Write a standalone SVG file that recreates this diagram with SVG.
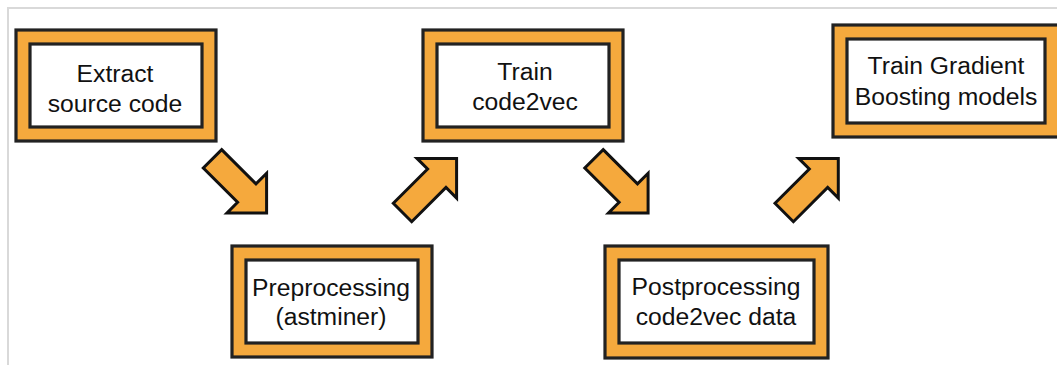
<svg xmlns="http://www.w3.org/2000/svg" width="1057" height="365" viewBox="0 0 1057 365">
  <style>
    .frame { fill: #f5a93d; stroke: #222; stroke-width: 3.2; }
    .panel { fill: #fff; stroke: #222; stroke-width: 3.2; }
    .label { font-family: "Liberation Sans", Arial, sans-serif; font-size: 24.7px; fill: #111; text-anchor: middle; }
    .arrow { fill: #f5a93d; stroke: #111; stroke-width: 3; stroke-linejoin: miter; }
    .edge { stroke: #d9d9d9; stroke-width: 2; fill: none; }
  </style>
  <defs>
    <!-- block arrow pointing along +x, tail centred on the origin -->
    <polygon id="blockArrow" points="0,-13 48.5,-13 48.5,-28 76.5,0 48.5,28 48.5,13 0,13"/>
  </defs>

  <rect width="1057" height="365" fill="#fff"/>
  <path class="edge" d="M8,365 V8 H1057"/>

  <g id="extract">
    <rect class="frame" x="16" y="30" width="200" height="111"/>
    <rect class="panel" x="30" y="44" width="172" height="83"/>
    <text class="label" x="115" y="82">Extract</text>
    <text class="label" x="115" y="112">source code</text>
  </g>

  <g id="preprocessing">
    <rect class="frame" x="232" y="246" width="200" height="111"/>
    <rect class="panel" x="246" y="260" width="172" height="83"/>
    <text class="label" x="331" y="296">Preprocessing</text>
    <text class="label" x="331" y="325">(astminer)</text>
  </g>

  <g id="train-code2vec">
    <rect class="frame" x="423" y="30" width="200" height="111"/>
    <rect class="panel" x="437" y="44" width="172" height="83"/>
    <text class="label" x="525" y="80">Train</text>
    <text class="label" x="525" y="110">code2vec</text>
  </g>

  <g id="postprocessing">
    <rect class="frame" x="605" y="246" width="223" height="112"/>
    <rect class="panel" x="619" y="260" width="195" height="83"/>
    <text class="label" x="716" y="295">Postprocessing</text>
    <text class="label" x="716" y="325">code2vec data</text>
  </g>

  <g id="train-gbm">
    <rect class="frame" x="833" y="25" width="230" height="112"/>
    <rect class="panel" x="847" y="39" width="198" height="84"/>
    <text class="label" x="946" y="74">Train Gradient</text>
    <text class="label" x="946" y="105">Boosting models</text>
  </g>

  <g id="connectors">
    <use class="arrow" href="#blockArrow" transform="translate(212.5,158.8) rotate(45)"/>
    <use class="arrow" href="#blockArrow" transform="translate(402.5,212.5) rotate(-45)"/>
    <use class="arrow" href="#blockArrow" transform="translate(594,158.8) rotate(45)"/>
    <use class="arrow" href="#blockArrow" transform="translate(784.2,212.5) rotate(-45)"/>
  </g>
</svg>
